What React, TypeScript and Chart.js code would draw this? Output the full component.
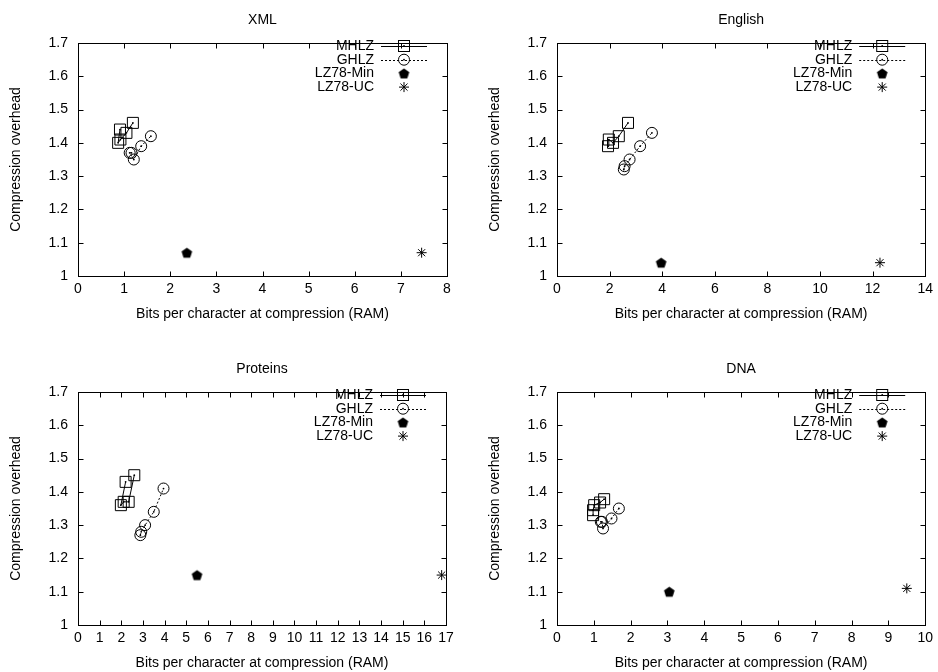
import React, { useEffect, useRef } from 'react';
import { Chart, registerables } from 'chart.js';

Chart.register(...registerables);

type Pt = [number, number];

const FONT = '"Liberation Sans", Arial, Helvetica, sans-serif';

// ---- Data (x: bits per character at compression, y: compression overhead) ----
const xmlMHLZ: Pt[] = [[0.91, 1.44], [0.87, 1.40], [0.92, 1.41], [1.05, 1.43], [1.19, 1.46]];
const xmlGHLZ: Pt[] = [[1.16, 1.37], [1.12, 1.37], [1.21, 1.35], [1.37, 1.39], [1.58, 1.42]];
const xmlMin: Pt[] = [[2.36, 1.07]];
const xmlUC: Pt[] = [[7.45, 1.07]];

const engMHLZ: Pt[] = [[1.94, 1.39], [1.97, 1.41], [2.13, 1.40], [2.35, 1.42], [2.70, 1.46]];
const engGHLZ: Pt[] = [[2.54, 1.32], [2.57, 1.33], [2.76, 1.35], [3.16, 1.39], [3.61, 1.43]];
const engMin: Pt[] = [[3.96, 1.04]];
const engUC: Pt[] = [[12.28, 1.04]];

const proMHLZ: Pt[] = [[2.2, 1.43], [1.98, 1.36], [2.11, 1.37], [2.34, 1.37], [2.6, 1.45]];
const proGHLZ: Pt[] = [[2.88, 1.27], [2.92, 1.28], [3.1, 1.30], [3.5, 1.34], [3.95, 1.41]];
const proMin: Pt[] = [[5.5, 1.15]];
const proUC: Pt[] = [[16.8, 1.15]];

const dnaMHLZ: Pt[] = [[0.98, 1.33], [0.98, 1.345], [1.01, 1.36], [1.17, 1.368], [1.28, 1.378]];
const dnaGHLZ: Pt[] = [[1.19, 1.31], [1.22, 1.31], [1.25, 1.29], [1.48, 1.32], [1.68, 1.35]];
const dnaMin: Pt[] = [[3.05, 1.10]];
const dnaUC: Pt[] = [[9.5, 1.11]];

const seriesNames = ['MHLZ', 'GHLZ', 'LZ78-Min', 'LZ78-UC'];
const yMin = 1;
const yMax = 1.7;
const yStep = 0.1;
const xTitle = 'Bits per character at compression (RAM)';
const yTitle = 'Compression overhead';

// ---- Layout ----
const W = 469;
const H = 336;

interface PanelDef {
  title: string;
  px: number;
  py: number;
  xMax: number;
  xStep: number;
  l: number;
  r: number;
  t: number;
  b: number;
  mhlz: Pt[];
  ghlz: Pt[];
  min: Pt[];
  uc: Pt[];
}

const panels: PanelDef[] = [
  { title: 'XML', px: 0, py: 0, xMax: 8, xStep: 1, l: 78, r: 447, t: 43, b: 276, mhlz: xmlMHLZ, ghlz: xmlGHLZ, min: xmlMin, uc: xmlUC },
  { title: 'English', px: 469, py: 0, xMax: 14, xStep: 2, l: 88, r: 458, t: 43, b: 276, mhlz: engMHLZ, ghlz: engGHLZ, min: engMin, uc: engUC },
  { title: 'Proteins', px: 0, py: 336, xMax: 17, xStep: 1, l: 78, r: 446, t: 56, b: 289, mhlz: proMHLZ, ghlz: proGHLZ, min: proMin, uc: proUC },
  { title: 'DNA', px: 469, py: 336, xMax: 10, xStep: 1, l: 88, r: 460, t: 56, b: 289, mhlz: dnaMHLZ, ghlz: dnaGHLZ, min: dnaMin, uc: dnaUC },
];

const FS = 14;

function makePentagon(): HTMLCanvasElement {
  const c = document.createElement('canvas');
  c.width = 13;
  c.height = 13;
  const g = c.getContext('2d')!;
  const cx = 6.5, cy = 7, rad = 5.6;
  g.beginPath();
  for (let k = 0; k < 5; k++) {
    const a = -Math.PI / 2 + (k * 2 * Math.PI) / 5;
    const x = cx + rad * Math.cos(a);
    const y = cy + rad * Math.sin(a);
    if (k === 0) g.moveTo(x, y);
    else g.lineTo(x, y);
  }
  g.closePath();
  g.fillStyle = '#000';
  g.fill();
  return c;
}

const SQ = 11; // square side
const CR = 5.5; // circle radius
const ST = 5; // star radius

function drawMarker(ctx: CanvasRenderingContext2D, kind: number, x: number, y: number, pent: HTMLCanvasElement) {
  ctx.save();
  ctx.strokeStyle = '#000';
  ctx.fillStyle = '#000';
  ctx.lineWidth = 1;
  ctx.setLineDash([]);
  if (kind === 0) {
    ctx.strokeRect(x - SQ / 2, y - SQ / 2, SQ, SQ);
    ctx.beginPath();
    ctx.arc(x, y, 0.9, 0, Math.PI * 2);
    ctx.fill();
  } else if (kind === 1) {
    ctx.beginPath();
    ctx.arc(x, y, CR, 0, Math.PI * 2);
    ctx.stroke();
    ctx.beginPath();
    ctx.arc(x, y, 0.9, 0, Math.PI * 2);
    ctx.fill();
  } else if (kind === 2) {
    ctx.drawImage(pent, x - pent.width / 2, y - pent.height / 2);
  } else {
    ctx.beginPath();
    ctx.moveTo(x - ST, y); ctx.lineTo(x + ST, y);
    ctx.moveTo(x, y - ST); ctx.lineTo(x, y + ST);
    const d = ST * Math.SQRT1_2;
    ctx.moveTo(x - d, y - d); ctx.lineTo(x + d, y + d);
    ctx.moveTo(x - d, y + d); ctx.lineTo(x + d, y - d);
    ctx.stroke();
  }
  ctx.restore();
}

function makePlugin(def: PanelDef, pent: HTMLCanvasElement) {
  return {
    id: 'gnuFrame',
    afterDatasetsDraw(chart: any) {
      const ctx: CanvasRenderingContext2D = chart.ctx;
      ctx.save();
      ctx.fillStyle = '#000';
      [0, 1].forEach((i) => {
        const meta = chart.getDatasetMeta(i);
        meta.data.forEach((el: any) => {
          ctx.beginPath();
          ctx.arc(el.x, el.y, 0.9, 0, Math.PI * 2);
          ctx.fill();
        });
      });
      ctx.restore();
    },
    afterDraw(chart: any) {
      const ctx: CanvasRenderingContext2D = chart.ctx;
      const a = chart.chartArea;
      const L = Math.round(a.left) + 0.5;
      const R = Math.round(a.right) + 0.5;
      const T = Math.round(a.top) + 0.5;
      const B = Math.round(a.bottom) + 0.5;
      ctx.save();
      ctx.strokeStyle = '#000';
      ctx.lineWidth = 1;
      ctx.setLineDash([]);
      ctx.strokeRect(L, T, R - L, B - T);
      const tl = 5;
      ctx.beginPath();
      chart.scales.x.ticks.forEach((t: any) => {
        const x = Math.round(chart.scales.x.getPixelForValue(t.value)) + 0.5;
        ctx.moveTo(x, B); ctx.lineTo(x, B - tl);
        ctx.moveTo(x, T); ctx.lineTo(x, T + tl);
      });
      chart.scales.y.ticks.forEach((t: any) => {
        const y = Math.round(chart.scales.y.getPixelForValue(t.value)) + 0.5;
        ctx.moveTo(L, y); ctx.lineTo(L + tl, y);
        ctx.moveTo(R, y); ctx.lineTo(R - tl, y);
      });
      ctx.stroke();

      ctx.fillStyle = '#000';
      ctx.font = `${FS}px ${FONT}`;
      ctx.textAlign = 'center';
      ctx.textBaseline = 'middle';
      const cx = (a.left + a.right) / 2;
      ctx.fillText(def.title, cx, a.top - 23);
      ctx.fillText(xTitle, cx, a.bottom + 38);
      ctx.save();
      ctx.translate(a.left - 62, (a.top + a.bottom) / 2);
      ctx.rotate(-Math.PI / 2);
      ctx.fillText(yTitle, 0, 0);
      ctx.restore();

      // legend
      const textR = a.right - 73;
      const lx0 = a.right - 66;
      const lx1 = a.right - 20;
      const mx = a.right - 43;
      seriesNames.forEach((name, i) => {
        const y = a.top + 3 + i * 13.7;
        ctx.textAlign = 'right';
        ctx.fillStyle = '#000';
        ctx.fillText(name, textR, y);
        if (i < 2) {
          ctx.beginPath();
          ctx.setLineDash(i === 0 ? [] : [2, 2]);
          ctx.moveTo(lx0, Math.round(y) + 0.5);
          ctx.lineTo(lx1, Math.round(y) + 0.5);
          ctx.stroke();
          ctx.setLineDash([]);
        }
        drawMarker(ctx, i, mx, y, pent);
      });
      ctx.restore();
    },
  };
}

function Panel({ def }: { def: PanelDef }) {
  const ref = useRef<HTMLCanvasElement>(null);
  useEffect(() => {
    const canvas = ref.current!;
    const pent = makePentagon();
    const toXY = (arr: Pt[]) => arr.map(([x, y]) => ({ x, y }));
    const chart = new Chart(canvas, {
      type: 'scatter',
      data: {
        datasets: [
          {
            label: seriesNames[0],
            data: toXY(def.mhlz),
            showLine: true,
            borderColor: '#000',
            borderWidth: 1,
            backgroundColor: 'rgba(0,0,0,0)',
            pointStyle: 'rect',
            pointRadius: SQ / 2 / Math.SQRT1_2,
            pointBorderWidth: 1,
            pointBorderColor: '#000',
            pointBackgroundColor: 'rgba(0,0,0,0)',
            clip: false as any,
          },
          {
            label: seriesNames[1],
            data: toXY(def.ghlz),
            showLine: true,
            borderColor: '#000',
            borderWidth: 1,
            borderDash: [2, 2],
            backgroundColor: 'rgba(0,0,0,0)',
            pointStyle: 'circle',
            pointRadius: CR,
            pointBorderWidth: 1,
            pointBorderColor: '#000',
            pointBackgroundColor: 'rgba(0,0,0,0)',
            clip: false as any,
          },
          {
            label: seriesNames[2],
            data: toXY(def.min),
            pointStyle: pent as any,
            pointRadius: 6,
            clip: false as any,
          },
          {
            label: seriesNames[3],
            data: toXY(def.uc),
            pointStyle: 'star',
            pointRadius: ST,
            pointBorderWidth: 1,
            pointBorderColor: '#000',
            pointBackgroundColor: '#000',
            clip: false as any,
          },
        ],
      },
      options: {
        animation: false,
        responsive: false,
        maintainAspectRatio: false,
        events: [],
        layout: { padding: { top: def.t, right: W - def.r, left: 0, bottom: 0 } },
        plugins: { legend: { display: false }, tooltip: { enabled: false }, title: { display: false } },
        scales: {
          x: {
            type: 'linear',
            min: 0,
            max: def.xMax,
            ticks: {
              stepSize: def.xStep,
              autoSkip: false,
              maxRotation: 0,
              color: '#000',
              font: { family: FONT, size: FS },
              padding: 5,
            },
            grid: { display: false, drawTicks: false },
            border: { display: false },
            afterFit: (s: any) => { s.height = H - def.b; },
          },
          y: {
            type: 'linear',
            min: yMin,
            max: yMax,
            ticks: {
              stepSize: yStep,
              color: '#000',
              font: { family: FONT, size: FS },
              padding: 10,
              callback: (v: any) => String(Number(Number(v).toFixed(1))),
            },
            grid: { display: false, drawTicks: false },
            border: { display: false },
            afterFit: (s: any) => { s.width = def.l; },
          },
        },
      },
      plugins: [makePlugin(def, pent)],
    });
    return () => chart.destroy();
  }, [def]);
  return (
    <canvas
      ref={ref}
      width={W}
      height={H}
      style={{ position: 'absolute', left: def.px, top: def.py, width: W, height: H }}
    />
  );
}

export default function App() {
  useEffect(() => {
    document.body.style.margin = '0';
    document.body.style.background = '#fff';
  }, []);
  return (
    <div style={{ position: 'relative', width: 938, height: 672, background: '#fff', overflow: 'hidden' }}>
      {panels.map((p) => (
        <Panel key={p.title} def={p} />
      ))}
    </div>
  );
}
